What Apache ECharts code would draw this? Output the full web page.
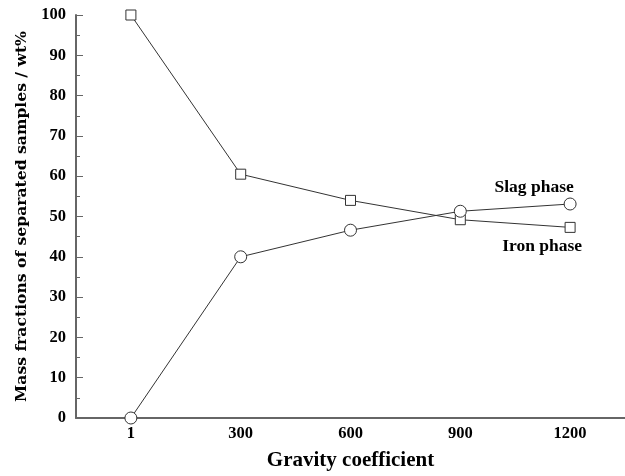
<!DOCTYPE html>
<html>
<head>
<meta charset="utf-8">
<script src="https://cdn.jsdelivr.net/npm/echarts@6/dist/echarts.min.js"></script>
<style>
  html, body { margin: 0; padding: 0; background: #fff; }
  #main { width: 625px; height: 476px; }
</style>
</head>
<body>
<div id="main"></div>
<script>
var categories = ["1", "300", "600", "900", "1200"];
var ironPhase = [100, 60.5, 54, 49.2, 47.3];
var slagPhase = [0, 40, 46.6, 51.3, 53.1];

var font = "Liberation Serif";
var titleFont = "DejaVu Serif";
var myChart = echarts.init(document.getElementById("main"));

function lastLabel(values, text, offset) {
  return values.map(function (v, i) {
    if (i !== values.length - 1) return v;
    return {
      value: v,
      label: {
        show: true,
        formatter: text,
        position: "inside",
        offset: offset,
        fontFamily: font,
        fontWeight: "bold",
        fontSize: 17.5,
        color: "#000",
      },
    };
  });
}

myChart.setOption({
  animation: false,
  backgroundColor: "#fff",
  grid: { left: 76, right: -4, top: 15, bottom: 55, containLabel: false },
  xAxis: {
    type: "category",
    data: categories,
    boundaryGap: true,
    name: "Gravity coefficient",
    nameLocation: "middle",
    nameGap: 32,
    nameTextStyle: { fontFamily: font, fontWeight: "bold", fontSize: 21, color: "#000" },
    axisLine: { lineStyle: { color: "#666", width: 2 } },
    axisTick: { inside: true, alignWithLabel: true, length: 7, lineStyle: { color: "#666", width: 1 } },
    axisLabel: { fontFamily: font, fontWeight: "bold", fontSize: 16.5, color: "#000", margin: 7 },
    splitLine: { show: false },
  },
  yAxis: {
    type: "value",
    min: 0,
    max: 100,
    interval: 10,
    name: "Mass fractions of separated samples / wt%",
    nameLocation: "middle",
    nameGap: 44,
    nameTextStyle: { fontFamily: titleFont, fontWeight: "bold", fontSize: 15.6, color: "#000" },
    axisLine: { show: true, lineStyle: { color: "#666", width: 2 } },
    axisTick: { show: true, inside: true, length: 7, lineStyle: { color: "#666", width: 1 } },
    minorTick: { show: true, splitNumber: 2, length: 4, lineStyle: { color: "#666", width: 1 } },
    axisLabel: { fontFamily: font, fontWeight: "bold", fontSize: 16.5, color: "#000", margin: 10 },
    splitLine: { show: false },
  },
  series: [
    {
      name: "Iron phase",
      type: "line",
      data: lastLabel(ironPhase, "Iron phase", [-28, 19]),
      symbol: "rect",
      symbolSize: 10,
      lineStyle: { color: "#333", width: 1 },
      itemStyle: { color: "#fff", borderColor: "#333", borderWidth: 1 },
    },
    {
      name: "Slag phase",
      type: "line",
      data: lastLabel(slagPhase, "Slag phase", [-36, -17]),
      symbol: "circle",
      symbolSize: 12,
      lineStyle: { color: "#333", width: 1 },
      itemStyle: { color: "#fff", borderColor: "#333", borderWidth: 1 },
    },
  ],
});
</script>
</body>
</html>
